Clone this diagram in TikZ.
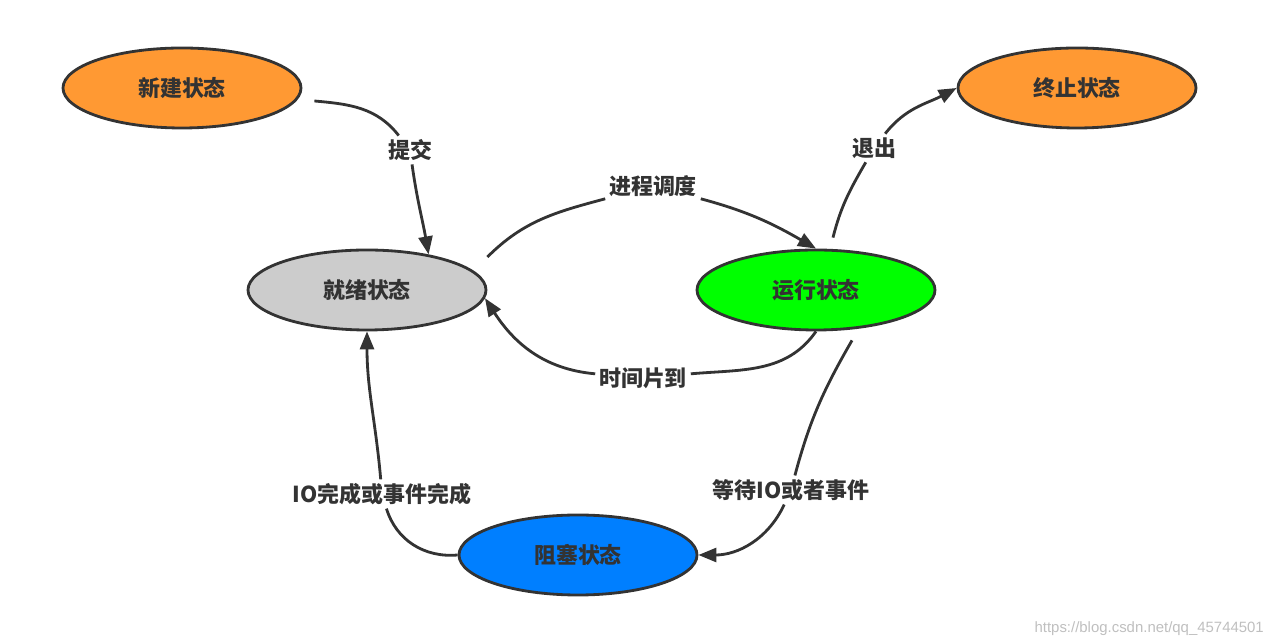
\documentclass[tikz,border=0pt]{standalone}
\usepackage{fontspec}
\setmainfont{Noto Sans CJK SC}
\newfontfamily\wmfont{Liberation Sans}
\usetikzlibrary{arrows.meta,shapes.geometric}
\definecolor{ink}{HTML}{333333}
\definecolor{newc}{HTML}{FF9933}
\definecolor{readyc}{HTML}{CCCCCC}
\definecolor{runc}{HTML}{00FF00}
\definecolor{blockc}{HTML}{007FFF}

\begin{document}
\begin{tikzpicture}[>={Triangle[length=0.36cm,width=0.28cm]},
  every node/.style={font=\fontsize{12.5}{14}\selectfont\bfseries, text=ink},
  state/.style={ellipse, draw=ink, line width=1.6pt, minimum width=4.76cm, minimum height=1.6cm},
  lbl/.style={fill=white, inner sep=2pt},
  conn/.style={draw=ink, line width=1.6pt}]
\useasboundingbox (0,0) rectangle (25.58,12.88);
% states
\node[state, fill=newc] (new) at (3.64,11.12) {新建状态};
\node[state, fill=newc] (term) at (21.54,11.12) {终止状态};
\node[state, fill=readyc] (ready) at (7.34,7.08) {就绪状态};
\node[state, fill=runc] (run) at (16.32,7.08) {运行状态};
\node[state, fill=blockc] (blocked) at (11.56,1.78) {阻塞状态};
% transition labels
\node[lbl] (submit) at (8.20,9.88) {提交};
\node[lbl] (dispatch) at (13.06,9.16) {进程调度};
\node[lbl] (quit) at (17.48,9.92) {退出};
\node[lbl] (timeout) at (12.86,5.32) {时间片到};
\node[lbl] (wait) at (15.82,3.08) {等待IO或者事件};
\node[lbl] (iodone) at (7.64,3.00) {IO完成或事件完成};
% transitions
\draw[conn] ([shift={(0.24,-0.26)}]new.east) to[out=-5,in=128] (submit);
\draw[conn,->] (submit) to[out=-82,in=100] (ready.30);
\draw[conn] ([yshift=0.66cm]ready.east) to[out=45,in=195] (dispatch);
\draw[conn,->] (dispatch) to[out=-15,in=150] (run.north);
\draw[conn] ([shift={(0.34,0.22)}]run.north) to[out=76,in=-120] (quit);
\draw[conn,->] (quit) to[out=52,in=208] (term.west);
\draw[conn] (run.south) to[out=-125,in=5] (timeout);
\draw[conn,->] (timeout) to[out=175,in=-57] (ready.-4);
\draw[conn] ([shift={(0.72,-0.18)}]run.south) to[out=-120,in=75] (wait);
\draw[conn,->] (wait) to[out=-115,in=0] (blocked.east);
\draw[conn] (blocked.west) to[out=185,in=-73] (iodone);
\draw[conn,->] (iodone) to[out=95,in=-90] (ready.south);
\node[font=\wmfont\fontsize{8.5}{10}\selectfont, text=black!25, anchor=east] (mark) at (25.40,0.30) {https://blog.csdn.net/qq\_45744501};
\end{tikzpicture}
\end{document}
